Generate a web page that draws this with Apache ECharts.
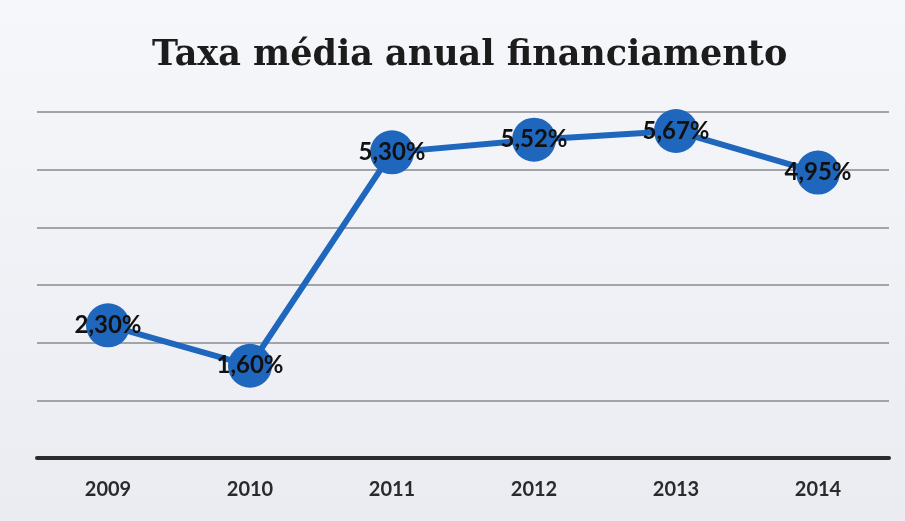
<!DOCTYPE html>
<html>
<head>
<meta charset="utf-8">
<script src="https://cdn.jsdelivr.net/npm/echarts@6/dist/echarts.min.js"></script>
<style>
html,body{margin:0;padding:0;background:#ffffff;}
#c{width:905px;height:521px;}
</style>
</head>
<body>
<div id="c"></div>
<script>
const categories = ['2009', '2010', '2011', '2012', '2013', '2014'];
const rates = [2.30, 1.60, 5.30, 5.52, 5.67, 4.95];
const titleText = 'Taxa média anual financiamento';

const chart = echarts.init(document.getElementById('c'));
chart.setOption({
  backgroundColor: {
    type: 'linear', x: 0, y: 0, x2: 0, y2: 1,
    colorStops: [
      {offset: 0, color: '#f6f7fa'},
      {offset: 1, color: '#eaecf2'}
    ]
  },
  animation: false,
  title: {
    text: titleText,
    left: 147,
    top: 33,
    textStyle: {
      fontFamily: 'DejaVu Serif',
      fontWeight: 'bold',
      fontSize: 35,
      color: '#1c1c1c'
    }
  },
  grid: {left: 37, right: 16, top: 112, bottom: 63},
  xAxis: {
    type: 'category',
    data: categories,
    boundaryGap: true,
    axisLine: {show: true, lineStyle: {color: '#2b2b2b', width: 4}},
    axisTick: {show: false},
    axisLabel: {
      color: '#2a2a2a',
      fontFamily: 'Lato',
      fontWeight: 'bold',
      fontSize: 20,
      margin: 22
    }
  },
  yAxis: {
    type: 'value',
    min: 0,
    max: 6,
    interval: 1,
    axisLine: {show: false},
    axisTick: {show: false},
    axisLabel: {show: false},
    splitLine: {lineStyle: {color: '#a2a4aa', width: 2}}
  },
  series: [{
    type: 'line',
    data: rates,
    symbol: 'circle',
    symbolSize: 44,
    lineStyle: {color: '#1f66bd', width: 6},
    itemStyle: {color: '#1f66bd'},
    label: {
      show: true,
      position: 'inside',
      formatter: p => p.value.toFixed(2).replace('.', ',') + '%',
      color: '#111111',
      fontFamily: 'Lato',
      fontWeight: 'bold',
      fontSize: 24
    }
  }]
});
</script>
</body>
</html>
